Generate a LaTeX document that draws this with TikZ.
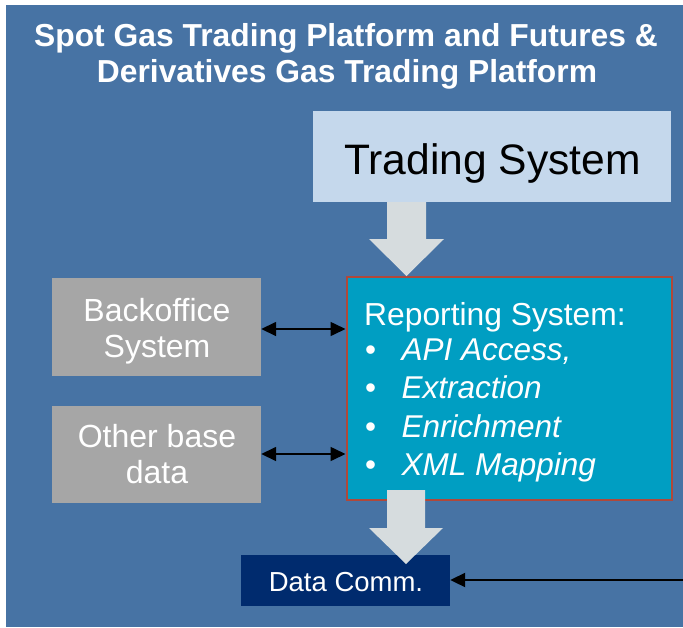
\documentclass[tikz,border=0pt]{standalone}
\usepackage{fontspec}
\setmainfont{Liberation Sans}
\usetikzlibrary{arrows.meta,calc}
\definecolor{bgblue}{RGB}{71,115,164}
\definecolor{tsfill}{RGB}{197,216,236}
\definecolor{blkarrow}{RGB}{214,220,222}
\definecolor{repfill}{RGB}{0,158,194}
\definecolor{repborder}{RGB}{176,72,58}
\definecolor{grayfill}{RGB}{166,166,166}
\definecolor{dcfill}{RGB}{0,43,110}
\tikzset{
  box/.style={rectangle, inner sep=0pt, draw=none},
  txt/.style={inner sep=0pt, anchor=base, text=white},
  bigarrow/.style={fill=blkarrow, draw=none},
  dbl/.style={black, line width=1.6pt, {Triangle[length=15pt,width=14pt]}-{Triangle[length=15pt,width=14pt]}},
  sgl/.style={black, line width=2pt, -{Triangle[length=15pt,width=14pt]}},
}
\begin{document}
\begin{tikzpicture}[x=1pt,y=-1pt]
\useasboundingbox (0,0) rectangle (683,627);
\fill[white] (0,0) rectangle (683,627);
\fill[bgblue] (6,5) rectangle (683,627);
% title
\node[txt] (title1) at (346,46) {\fontsize{31.8}{36}\selectfont\bfseries Spot Gas Trading Platform and Futures \&};
\node[txt] (title2) at (347,82) {\fontsize{31.8}{36}\selectfont\bfseries Derivatives Gas Trading Platform};
% boxes
\node[box, fill=tsfill, minimum width=358pt, minimum height=91pt] (ts) at (492,156.5) {};
\node[txt, text=black] (tstext) at (492.5,174) {\fontsize{42.6}{48}\selectfont Trading System};
\node[box, fill=repfill, draw=repborder, line width=2pt, minimum width=325pt, minimum height=223pt] (rep) at (509,388) {};
\node[box, fill=grayfill, minimum width=209pt, minimum height=98pt] (bo) at (156.5,327) {};
\node[box, fill=grayfill, minimum width=209pt, minimum height=97pt] (ob) at (156.5,454.5) {};
\node[box, fill=dcfill, minimum width=209pt, minimum height=51pt] (dc) at (345.5,580.5) {};
% texts
\node[txt] (bo1) at (157,321) {\fontsize{32}{36}\selectfont Backoffice};
\node[txt] (bo2) at (157,357) {\fontsize{32}{36}\selectfont System};
\node[txt] (ob1) at (157,447) {\fontsize{32}{36}\selectfont Other base};
\node[txt] (ob2) at (157,483) {\fontsize{32}{36}\selectfont data};
\node[txt] (dctext) at (346,591) {\fontsize{27.5}{32}\selectfont Data Comm.};
\node[txt, anchor=base west] (r0) at (364,325) {\fontsize{31.8}{36}\selectfont Reporting System:};
\foreach \n/\yy/\t in {r1/360/{API Access,}, r2/398/{Extraction}, r3/437/{Enrichment}, r4/475/{XML Mapping}}{
  \node[txt, anchor=base west] (\n b) at (365,\yy) {\fontsize{31.5}{36}\selectfont\textbullet};
  \node[txt, anchor=base west] (\n) at (401.5,\yy) {\fontsize{31.5}{36}\selectfont\itshape \t};
}
% block arrows
\fill[bigarrow] (387,202) coordinate (a1s) -- (387,239) -- (369,239) -- (406.5,276) coordinate (a1t) -- (444,239) -- (426,239) -- (426,202) -- cycle;
\fill[bigarrow] (387,490) coordinate (a2s) -- (387,528) -- (369,528) -- (406,564) coordinate (a2t) -- (443,528) -- (425,528) -- (425,490) -- cycle;
% connectors
\draw[dbl] (bo.east |- 0,329) -- (rep.west |- 0,329);
\draw[dbl] (ob.east |- 0,454) -- (rep.west |- 0,454);
\coordinate (rightend) at (683,580);
\draw[sgl] (rightend) -- (dc.east |- rightend);
\end{tikzpicture}
\end{document}
